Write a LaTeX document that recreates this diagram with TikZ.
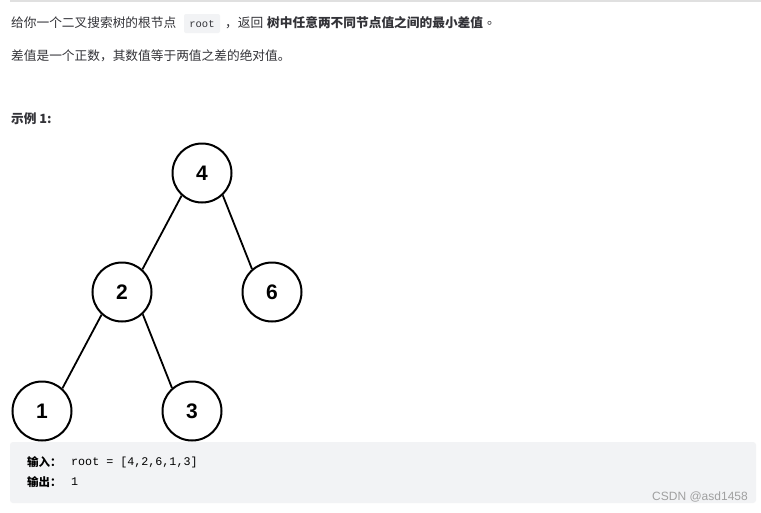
\documentclass[tikz,border=0pt]{standalone}
\usepackage{fontspec}
\setmainfont{Liberation Sans}
\newfontfamily\cjk{Noto Sans CJK SC}
\setmonofont{Liberation Mono}
\definecolor{txt}{HTML}{333338}
\definecolor{codebg}{HTML}{F2F3F5}
\definecolor{wm}{HTML}{A0A0A0}
\begin{document}
\begin{tikzpicture}[x=1pt,y=-1pt,
  tnode/.style={circle,draw=black,line width=2pt,minimum size=59pt,inner sep=0pt,font=\fontsize{21}{21}\selectfont\bfseries},
  edge/.style={line width=1.8pt},
  txtline/.style={anchor=west,inner sep=0pt,text=txt,font=\cjk\fontsize{12.7}{14}\selectfont}]
\useasboundingbox (0,0) rectangle (761,512);
\fill[white] (0,0) rectangle (761,512);
\draw[line width=1.2pt,color=black!12] (10,1) -- (761,1);
% line 1
\node[txtline] (l1a) at (11,23) {给你一个二叉搜索树的根节点};
\fill[codebg,rounded corners=2pt] (184,14) rectangle (220,33);
\node[anchor=center,inner sep=0pt,text=txt,font=\ttfamily\fontsize{10.5}{12}\selectfont] (code) at (202,24) {root};
\node[txtline] (l1b) at (225,23) {，返回};
\node[txtline,font=\cjk\bfseries\fontsize{12.7}{14}\selectfont] (l1c) at (267,23) {树中任意两不同节点值之间的最小差值};
\node[txtline] (l1d) at (487,23) {。};
\node[txtline] (l2) at (11,56) {差值是一个正数，其数值等于两值之差的绝对值。};
\node[txtline,font=\cjk\bfseries\fontsize{12.7}{14}\selectfont] (ex) at (11,119) {示例 1:};
% tree
\node[tnode] (n4) at (202,173) {4};
\node[tnode] (n2) at (122,292) {2};
\node[tnode] (n6) at (272,292) {6};
\node[tnode] (n1) at (42,411) {1};
\node[tnode] (n3) at (192,411) {3};
\draw[edge] (n4.228) -- (n2.48);
\draw[edge] (n4.313) -- (n6.131);
\draw[edge] (n2.228) -- (n1.48);
\draw[edge] (n2.313) -- (n3.131);
% code box
\fill[codebg,rounded corners=3pt] (10,442) rectangle (756,503);
\node[anchor=west,inner sep=0pt,font=\cjk\bfseries\fontsize{11.5}{13}\selectfont] (inl) at (27,462) {输入：};
\node[anchor=west,inner sep=0pt,font=\ttfamily\fontsize{11.7}{13}\selectfont] (inv) at (71,462) {root = [4,2,6,1,3]};
\node[anchor=west,inner sep=0pt,font=\cjk\bfseries\fontsize{11.5}{13}\selectfont] (outl) at (27,482) {输出：};
\node[anchor=west,inner sep=0pt,font=\ttfamily\fontsize{11.7}{13}\selectfont] (outv) at (71,482) {1};
\node[anchor=east,inner sep=0pt,text=wm,font=\fontsize{12}{13}\selectfont] (wmk) at (748,497) {CSDN @asd1458};
\end{tikzpicture}
\end{document}
